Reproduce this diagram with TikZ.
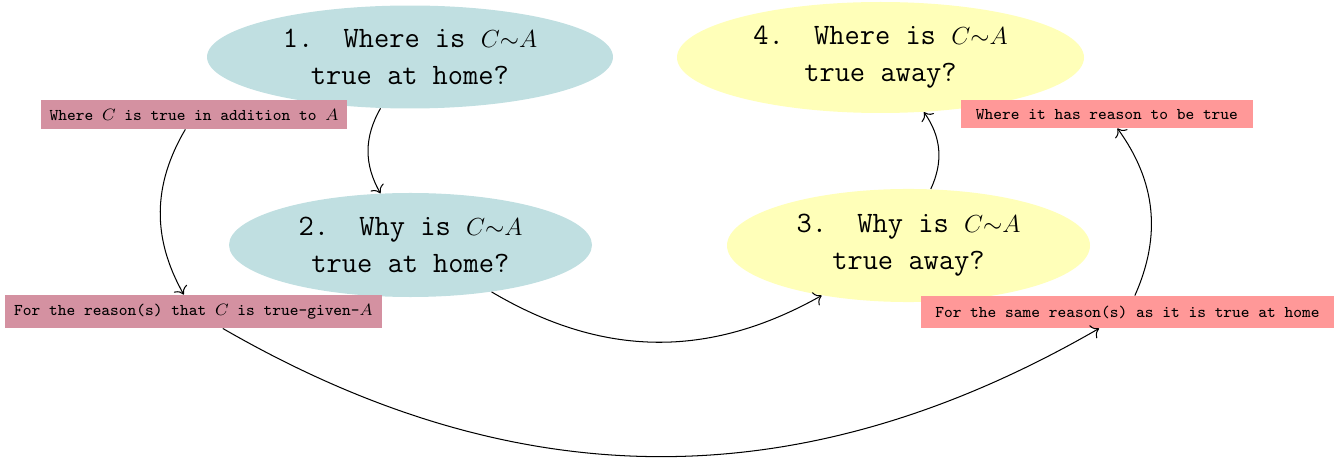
\documentclass[tikz,border=0pt]{standalone}
\usetikzlibrary{shapes.geometric, arrows.meta}

\definecolor{homefill}{RGB}{192,223,225}
\definecolor{awayfill}{RGB}{255,255,185}
\definecolor{homenote}{RGB}{212,145,161}
\definecolor{awaynote}{RGB}{255,152,152}

% classic Computer Modern typewriter
\newcommand\cmtype{\fontencoding{OT1}\fontfamily{cmtt}\selectfont}
% the relation, set a little smaller than the question text
\newcommand\rel{{\large$C{\sim}A$}}

\tikzset{
  question/.style={ellipse, inner sep=0pt, align=center,
    font=\Large\cmtype},
  homeq/.style={question, fill=homefill},
  awayq/.style={question, fill=awayfill},
  note/.style={rectangle, inner sep=1pt, font=\footnotesize\cmtype},
  homenotebox/.style={note, fill=homenote},
  awaynotebox/.style={note, fill=awaynote},
  link/.style={-{To[scale=1.3]}, line width=0.5pt, bend right},
}

\begin{document}
\begin{tikzpicture}[x=0.4865pt, y=-0.4865pt]
  \useasboundingbox (0,0) rectangle (1338,460);

  % the four questions
  \node[homeq, minimum width=197.5pt, minimum height=50.1pt] (q1) at (410,57)
    {1.\ \ Where is \rel\\true at home?};
  \node[homeq, minimum width=176.6pt, minimum height=50.6pt] (q2) at (410.5,245)
    {2.\ \ Why is \rel\\true at home?};
  \node[awayq, minimum width=176.6pt, minimum height=55pt] (q3) at (908.5,245.5)
    {3.\ \ Why is \rel\\true away?};
  \node[awayq, minimum width=198pt, minimum height=54pt] (q4) at (880.5,57.5)
    {4.\ \ Where is \rel\\true away?};

  % the answers
  \node[homenotebox, minimum width=148.9pt, minimum height=14.1pt] (a1) at (194,114.5)
    {Where $C$ is true in addition to $A$};
  \node[homenotebox, minimum width=183.4pt, minimum height=16.1pt] (a2) at (193.5,311.5)
    {For the reason(s) that $C$ is true-given-$A$};
  \node[awaynotebox, minimum width=142pt, minimum height=13.6pt] (a4) at (1107,114)
    {Where it has reason to be true};
  \node[awaynotebox, minimum width=201pt, minimum height=15.6pt] (a3) at (1127.5,312)
    {For the same reason(s) as it is true at home};

  % links
  \draw[link] (q1) to (q2);
  \draw[link] (q2) to (q3);
  \draw[link] (q3) to (q4);
  \draw[link] (a1) to (a2);
  \draw[link] (a2) to (a3);
  \draw[link] (a3) to (a4);
\end{tikzpicture}
\end{document}
